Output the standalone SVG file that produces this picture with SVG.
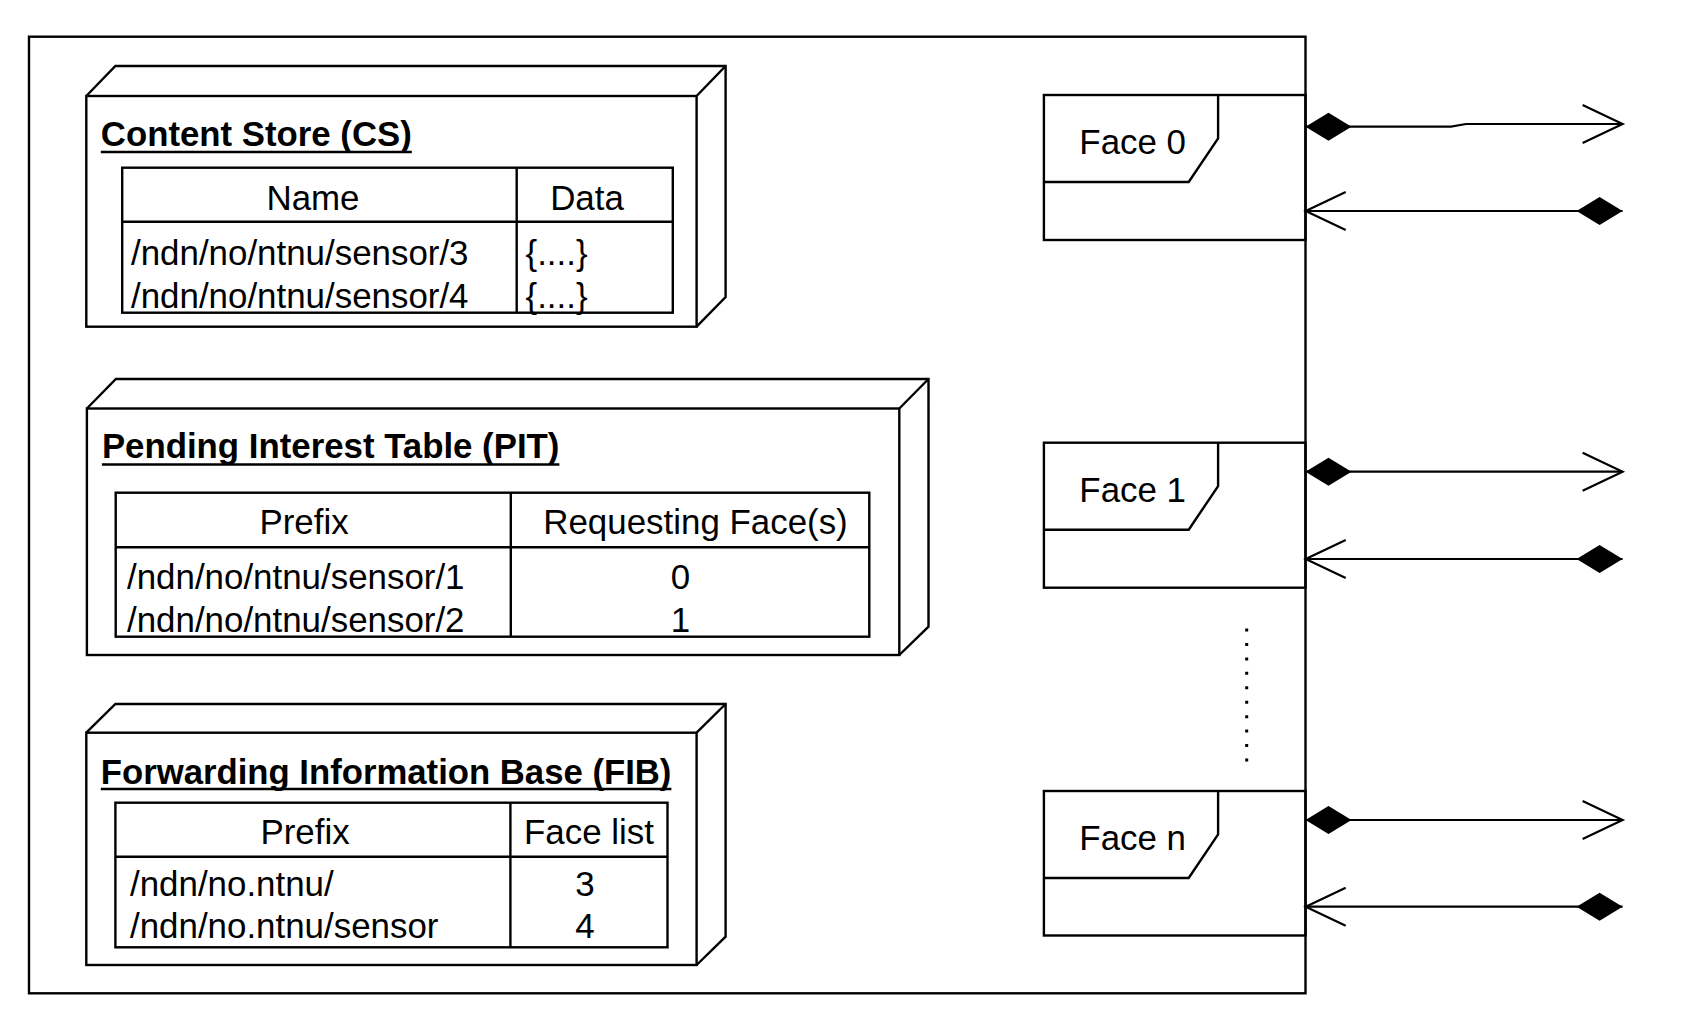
<svg xmlns="http://www.w3.org/2000/svg" width="1690" height="1028" viewBox="0 0 1690 1028">
<style>
  .ln{fill:none;stroke:#000;stroke-width:2.4;stroke-linejoin:miter}
  .tx{font-family:"Liberation Sans",Arial,Helvetica,sans-serif;font-size:34.9px;fill:#000}
  .tt{font-family:"Liberation Sans",Arial,Helvetica,sans-serif;font-size:34.5px;font-weight:bold;fill:#000}
  .mid{text-anchor:middle}
  .ul{stroke:#000;stroke-width:2.6}
  .cn{fill:none;stroke:#000;stroke-width:2.2}
</style>
<defs>
  <marker id="diamond" markerUnits="userSpaceOnUse" markerWidth="60" markerHeight="40" refX="0" refY="0" orient="auto" overflow="visible" viewBox="-5 -20 60 40">
    <path d="M0,0 L23,-14 L46,0 L23,14 Z" fill="#000"/>
  </marker>
  <marker id="open" markerUnits="userSpaceOnUse" markerWidth="50" markerHeight="50" refX="0" refY="0" orient="auto" overflow="visible" viewBox="-45 -25 50 50">
    <path d="M-40,-19 L0,0 L-40,19" fill="none" stroke="#000" stroke-width="2.2"/>
  </marker>
</defs>
<rect width="1690" height="1028" fill="#fff"/>

<g id="router">
  <rect class="ln" x="29" y="36.7" width="1276.5" height="956.6"/>
</g>

<g id="cs">
  <path class="ln" d="M86.3,96 L115.4,66 L725.6,66 L725.6,297 L696.6,326.7"/>
  <line class="ln" x1="696.6" y1="96" x2="725.6" y2="66"/>
  <rect class="ln" x="86.3" y="96" width="610.3" height="230.7"/>
  <text class="tt" x="100.8" y="145.5" textLength="311" lengthAdjust="spacingAndGlyphs">Content Store (CS)</text>
  <line class="ul" x1="100.8" y1="152" x2="411.8" y2="152"/>
  <rect class="ln" x="122.2" y="167.7" width="550.6" height="145"/>
  <line class="ln" x1="122.2" y1="221.7" x2="672.8" y2="221.7"/>
  <line class="ln" x1="516.7" y1="167.7" x2="516.7" y2="312.7"/>
  <text class="tx mid" x="313" y="210">Name</text>
  <text class="tx mid" x="587" y="210">Data</text>
  <text class="tx" x="131" y="265">/ndn/no/ntnu/sensor/3</text>
  <text class="tx" x="131" y="308">/ndn/no/ntnu/sensor/4</text>
  <text class="tx" x="525.5" y="265">{....}</text>
  <text class="tx" x="525.5" y="308">{....}</text>
</g>

<g id="pit">
  <path class="ln" d="M86.9,408.5 L115.9,379 L928.5,379 L928.5,626.7 L899.3,655"/>
  <line class="ln" x1="899.3" y1="408.5" x2="928.5" y2="379"/>
  <rect class="ln" x="86.9" y="408.5" width="812.4" height="246.5"/>
  <text class="tt" x="101.9" y="457.5" textLength="457.5" lengthAdjust="spacingAndGlyphs">Pending Interest Table (PIT)</text>
  <line class="ul" x1="101.9" y1="464.5" x2="559.4" y2="464.5"/>
  <rect class="ln" x="115.7" y="492.7" width="753.6" height="144"/>
  <line class="ln" x1="115.7" y1="547.3" x2="869.3" y2="547.3"/>
  <line class="ln" x1="510.8" y1="492.7" x2="510.8" y2="636.7"/>
  <text class="tx mid" x="304" y="533.5">Prefix</text>
  <text class="tx mid" x="695.5" y="533.5">Requesting Face(s)</text>
  <text class="tx" x="127" y="589">/ndn/no/ntnu/sensor/1</text>
  <text class="tx" x="127" y="631.7">/ndn/no/ntnu/sensor/2</text>
  <text class="tx mid" x="680.5" y="589">0</text>
  <text class="tx mid" x="680.5" y="631.7">1</text>
</g>

<g id="fib">
  <path class="ln" d="M86.3,732.7 L115.4,704 L725.6,704 L725.6,936.7 L696.6,965"/>
  <line class="ln" x1="696.6" y1="732.7" x2="725.6" y2="704"/>
  <rect class="ln" x="86.3" y="732.7" width="610.3" height="232.3"/>
  <text class="tt" x="100.8" y="783.5" textLength="570.6" lengthAdjust="spacingAndGlyphs">Forwarding Information Base (FIB)</text>
  <line class="ul" x1="100.8" y1="789" x2="671.4" y2="789"/>
  <rect class="ln" x="115.4" y="802.7" width="552.1" height="144.6"/>
  <line class="ln" x1="115.4" y1="856.7" x2="667.5" y2="856.7"/>
  <line class="ln" x1="510.4" y1="802.7" x2="510.4" y2="947.3"/>
  <text class="tx mid" x="305" y="844">Prefix</text>
  <text class="tx mid" x="589" y="844">Face list</text>
  <text class="tx" x="130" y="895.7">/ndn/no.ntnu/</text>
  <text class="tx" x="130" y="938.3">/ndn/no.ntnu/sensor</text>
  <text class="tx mid" x="585" y="895.7">3</text>
  <text class="tx mid" x="585" y="938.3">4</text>
</g>

<g id="face0">
  <rect class="ln" x="1043.9" y="95" width="261.6" height="145"/>
  <path class="ln" d="M1218.1,95 L1218.1,138.5 L1188.7,182 L1043.9,182"/>
  <text class="tx mid" x="1132.7" y="154.3">Face 0</text>
</g>
<g id="face1">
  <rect class="ln" x="1043.9" y="442.7" width="261.6" height="145"/>
  <path class="ln" d="M1218.1,442.7 L1218.1,486.2 L1188.7,529.7 L1043.9,529.7"/>
  <text class="tx mid" x="1132.7" y="502">Face 1</text>
</g>
<g id="facen">
  <rect class="ln" x="1043.9" y="791" width="261.6" height="144.5"/>
  <path class="ln" d="M1218.1,791 L1218.1,834.5 L1188.7,878 L1043.9,878"/>
  <text class="tx mid" x="1132.7" y="850.3">Face n</text>
</g>

<g id="ellipsis">
  <line x1="1246.7" y1="628.5" x2="1246.7" y2="761.5" stroke="#000" stroke-width="3" stroke-dasharray="3 11.44"/>
</g>

<g id="connectors">
  <path class="cn" d="M1305.5,126.7 L1451,126.7 L1466,124 L1622.6,124" marker-start="url(#diamond)" marker-end="url(#open)"/>
  <path class="cn" d="M1622.6,211 L1305.7,211" marker-start="url(#diamond)" marker-end="url(#open)"/>
  <path class="cn" d="M1305.5,471.7 L1622.6,471.7" marker-start="url(#diamond)" marker-end="url(#open)"/>
  <path class="cn" d="M1622.6,559 L1305.7,559" marker-start="url(#diamond)" marker-end="url(#open)"/>
  <path class="cn" d="M1305.5,820 L1622.6,820" marker-start="url(#diamond)" marker-end="url(#open)"/>
  <path class="cn" d="M1622.6,906.7 L1305.7,906.7" marker-start="url(#diamond)" marker-end="url(#open)"/>
</g>
</svg>
